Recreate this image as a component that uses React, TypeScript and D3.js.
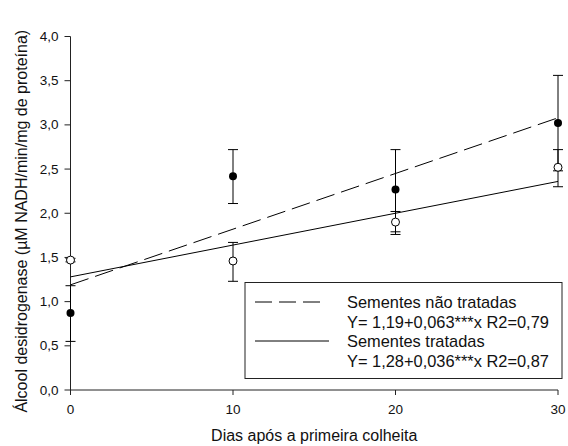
import React from "react";
import * as d3 from "d3";

// days after first harvest
const days = [0, 10, 20, 30];

// untreated seeds (filled circles)
const untreatedMean = [0.87, 2.42, 2.27, 3.02];
const untreatedLow = [0.55, 2.11, 1.76, 2.48];
const untreatedHigh = [1.18, 2.72, 2.72, 3.56];

// treated seeds (open circles)
const treatedMean = [1.47, 1.46, 1.9, 2.52];
const treatedLow = [1.45, 1.23, 1.79, 2.3];
const treatedHigh = [1.49, 1.67, 2.02, 2.72];

// fitted regressions: [intercept, slope]
const untreatedFit = [1.19, 0.063];
const treatedFit = [1.28, 0.036];

const xTicks = [0, 10, 20, 30];
const yTicks = [0, 0.5, 1, 1.5, 2, 2.5, 3, 3.5, 4];

const legendLabels = [
  "Sementes não tratadas",
  "Y= 1,19+0,063***x R2=0,79",
  "Sementes tratadas",
  "Y= 1,28+0,036***x R2=0,87",
];

const W = 568;
const H = 446;
const FONT = "'Liberation Sans', Arial, sans-serif";

export default function App() {
  const x = d3.scaleLinear().domain([0, 30]).range([70.5, 558]);
  const y = d3.scaleLinear().domain([0, 4]).range([390, 36.5]);

  const fitLine = (fit: number[]) =>
    d3
      .line<number>()
      .x((d) => x(d))
      .y((d) => y(fit[0] + fit[1] * d))([0, 30]) || "";

  const fmt = (v: number) => v.toFixed(1).replace(".", ",");
  const cap = 5;

  const errorBars = (low: number[], high: number[], key: string) =>
    days.map((d, i) => (
      <g key={key + i} stroke="#000" strokeWidth={1}>
        <line x1={x(d)} x2={x(d)} y1={y(low[i])} y2={y(high[i])} />
        <line x1={x(d) - cap} x2={x(d) + cap} y1={y(low[i])} y2={y(low[i])} />
        <line x1={x(d) - cap} x2={x(d) + cap} y1={y(high[i])} y2={y(high[i])} />
      </g>
    ));

  return (
    <svg
      width={W}
      height={H}
      style={{ position: "absolute", left: 0, top: 0, background: "#fff" }}
      fontFamily={FONT}
    >
      {/* axes */}
      <g stroke="#222" strokeWidth={1} fill="none">
        <line x1={x(0)} x2={x(0)} y1={y(0)} y2={y(4)} />
        <line x1={x(0)} x2={x(30)} y1={y(0)} y2={y(0)} />
        {yTicks.map((t) => (
          <line key={"yt" + t} x1={x(0) - 6} x2={x(0)} y1={y(t)} y2={y(t)} />
        ))}
        {xTicks.map((t) => (
          <line key={"xt" + t} x1={x(t)} x2={x(t)} y1={y(0)} y2={y(0) + 5} />
        ))}
      </g>
      {yTicks.map((t) => (
        <text
          key={"yl" + t}
          x={x(0) - 12}
          y={y(t) + 4.5}
          textAnchor="end"
          fontSize={13.5}
          fill="#111"
        >
          {fmt(t)}
        </text>
      ))}
      {xTicks.map((t) => (
        <text key={"xl" + t} x={x(t)} y={414} textAnchor="middle" fontSize={13.5} fill="#111">
          {t}
        </text>
      ))}
      <text x={(x(0) + x(30)) / 2} y={441} textAnchor="middle" fontSize={16} fill="#111">
        Dias após a primeira colheita
      </text>
      <text
        transform={`translate(27,${(y(0) + y(4)) / 2 + 8}) rotate(-90)`}
        textAnchor="middle"
        fontSize={16}
        fill="#111"
      >
        Álcool desidrogenase (µM NADH/min/mg de proteína)
      </text>

      {/* regression lines */}
      <path d={fitLine(untreatedFit)} stroke="#000" fill="none" strokeWidth={1} strokeDasharray="19,7" />
      <path d={fitLine(treatedFit)} stroke="#000" fill="none" strokeWidth={1} />

      {/* error bars */}
      {errorBars(untreatedLow, untreatedHigh, "u")}
      {errorBars(treatedLow, treatedHigh, "t")}

      {/* points */}
      {days.map((d, i) => (
        <circle key={"up" + i} cx={x(d)} cy={y(untreatedMean[i])} r={4} fill="#000" />
      ))}
      {days.map((d, i) => (
        <circle
          key={"tp" + i}
          cx={x(d)}
          cy={y(treatedMean[i])}
          r={4}
          fill="#fff"
          stroke="#000"
          strokeWidth={1}
        />
      ))}

      {/* legend */}
      <rect x={245} y={282.5} width={317} height={96} fill="#fff" stroke="#222" strokeWidth={1} />
      <line x1={255} x2={322} y1={302} y2={302} stroke="#000" strokeDasharray="17,7" />
      <line x1={255} x2={329} y1={341} y2={341} stroke="#000" />
      {legendLabels.map((l, i) => (
        <text key={"lg" + i} x={347} y={308 + i * 19.5} fontSize={16.4} fill="#111">
          {l}
        </text>
      ))}
    </svg>
  );
}
